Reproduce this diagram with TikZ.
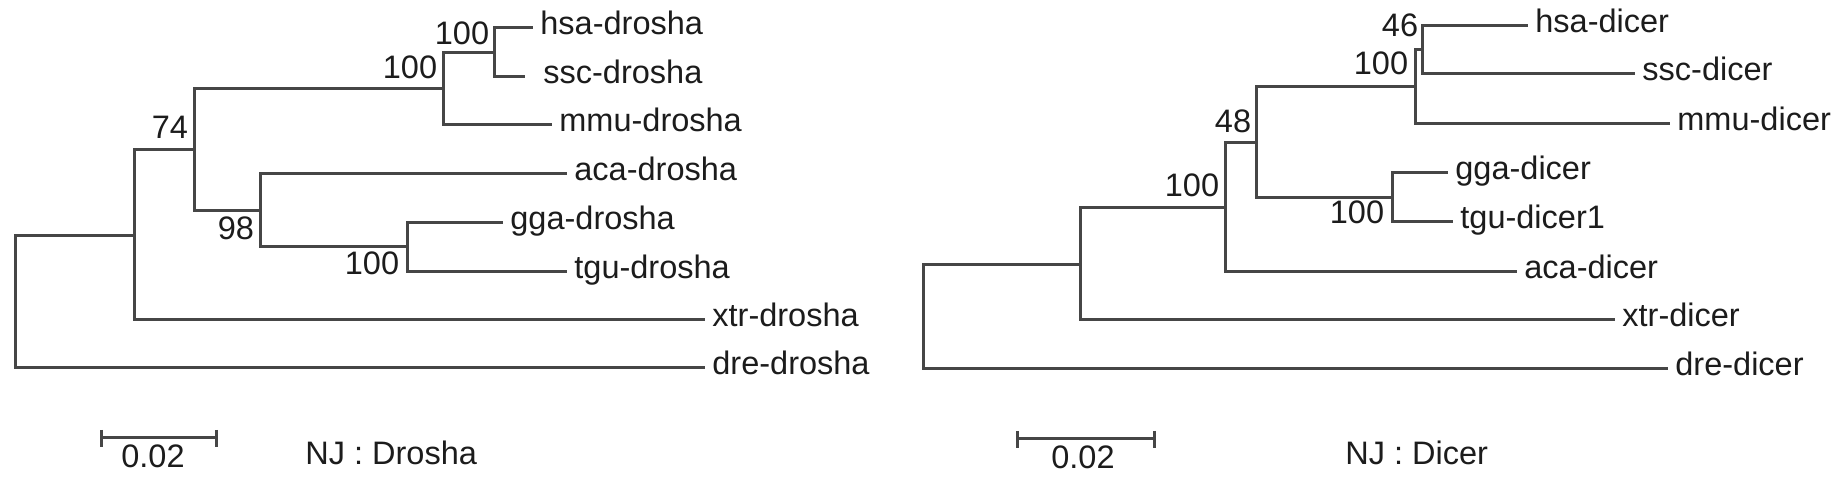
\documentclass[tikz,border=0pt]{standalone}
\usepackage{fontspec}
\setmainfont{Liberation Sans}
\definecolor{linecol}{RGB}{70,70,70}
\definecolor{txtcol}{RGB}{28,28,28}
\newcommand{\lblfont}{\fontsize{16.25}{18}\selectfont}
\tikzset{
  br/.style={draw=linecol, line width=1.5pt},
  leaf/.style={anchor=west, inner xsep=3.5pt, inner ysep=0pt, text height=0.66em, text depth=0pt, text=txtcol, font=\lblfont},
  boot/.style={inner sep=0pt, text height=0.716em, text depth=0pt, text=txtcol, font=\lblfont},
  caption/.style={anchor=west, inner sep=0pt, text height=0.716em, text depth=0pt, text=txtcol, font=\lblfont},
}
\begin{document}
\begin{tikzpicture}[x=0.5pt,y=-0.5pt]
\useasboundingbox[fill=white] (0,0) rectangle (1845,485);

% ---------------- Drosha tree ----------------
\coordinate (dR) at (15,302);
\coordinate (dA) at (134,236);
\coordinate (dB) at (194,150);
\coordinate (dC) at (443,89);
\coordinate (dD) at (494,53);
\coordinate (dE) at (260,211);
\coordinate (dF) at (407,247);

\node[leaf] (dhsa) at (533,28) {hsa-drosha};
\node[leaf, inner xsep=9pt] (dssc) at (525,77) {ssc-drosha};
\node[leaf] (dmmu) at (552,125) {mmu-drosha};
\node[leaf] (daca) at (567,174) {aca-drosha};
\node[leaf] (dgga) at (503,223) {gga-drosha};
\node[leaf] (dtgu) at (567,272) {tgu-drosha};
\node[leaf] (dxtr) at (705,320) {xtr-drosha};
\node[leaf] (ddre) at (705,368) {dre-drosha};

\draw[br] (dR) |- (dA);
\draw[br] (dR) |- (ddre.west);
\draw[br] (dA) |- (dB);
\draw[br] (dA) |- (dxtr.west);
\draw[br] (dB) |- (dC);
\draw[br] (dB) |- (dE);
\draw[br] (dC) |- (dD);
\draw[br] (dC) |- (dmmu.west);
\draw[br] (dD) |- (dhsa.west);
\draw[br] (dD) |- (dssc.west);
\draw[br] (dE) |- (daca.west);
\draw[br] (dE) |- (dF);
\draw[br] (dF) |- (dgga.west);
\draw[br] (dF) |- (dtgu.west);

\node[boot] (dbD) at (462,37) {100};
\node[boot] (dbC) at (410,71) {100};
\node[boot] (dbB) at (170,131) {74};
\node[boot] (dbE) at (236,232) {98};
\node[boot] (dbF) at (372,267) {100};

\coordinate (ds1) at (101,438);
\coordinate (ds2) at (216,438);
\draw[br] (ds1) -- (ds2);
\draw[br] ([yshift=4pt]ds1) -- ([yshift=-4.5pt]ds1);
\draw[br] ([yshift=4pt]ds2) -- ([yshift=-4.5pt]ds2);
\node[boot] (dscale) at (153,460) {0.02};
\node[caption] (dcap) at (305,457) {NJ : Drosha};

% ---------------- Dicer tree ----------------
\coordinate (cR) at (923,317);
\coordinate (cA) at (1080,265);
\coordinate (cB) at (1225,208);
\coordinate (cC) at (1256,143);
\coordinate (cD) at (1415,87);
\coordinate (cE) at (1422,50);
\coordinate (cF) at (1392,198);

\node[leaf] (chsa) at (1528,26) {hsa-dicer};
\node[leaf] (cssc) at (1635,74) {ssc-dicer};
\node[leaf] (cmmu) at (1670,124) {mmu-dicer};
\node[leaf] (cgga) at (1448,173) {gga-dicer};
\node[leaf] (ctgu) at (1453,222) {tgu-dicer1};
\node[leaf] (caca) at (1517,272) {aca-dicer};
\node[leaf] (cxtr) at (1615,320) {xtr-dicer};
\node[leaf] (cdre) at (1668,369) {dre-dicer};

\draw[br] (cR) |- (cA);
\draw[br] (cR) |- (cdre.west);
\draw[br] (cA) |- (cB);
\draw[br] (cA) |- (cxtr.west);
\draw[br] (cB) |- (cC);
\draw[br] (cB) |- (caca.west);
\draw[br] (cC) |- (cD);
\draw[br] (cC) |- (cF);
\draw[br] (cD) |- (cE);
\draw[br] (cD) |- (cmmu.west);
\draw[br] (cE) |- (chsa.west);
\draw[br] (cE) |- (cssc.west);
\draw[br] (cF) |- (cgga.west);
\draw[br] (cF) |- (ctgu.west);

\node[boot] (cbE) at (1400,29) {46};
\node[boot] (cbD) at (1381,67) {100};
\node[boot] (cbC) at (1233,125) {48};
\node[boot] (cbB) at (1192,189) {100};
\node[boot] (cbF) at (1357,216) {100};

\coordinate (cs1) at (1017,439);
\coordinate (cs2) at (1154,439);
\draw[br] (cs1) -- (cs2);
\draw[br] ([yshift=4pt]cs1) -- ([yshift=-4.5pt]cs1);
\draw[br] ([yshift=4pt]cs2) -- ([yshift=-4.5pt]cs2);
\node[boot] (cscale) at (1083,461) {0.02};
\node[caption] (ccap) at (1345,457) {NJ : Dicer};
\end{tikzpicture}
\end{document}
